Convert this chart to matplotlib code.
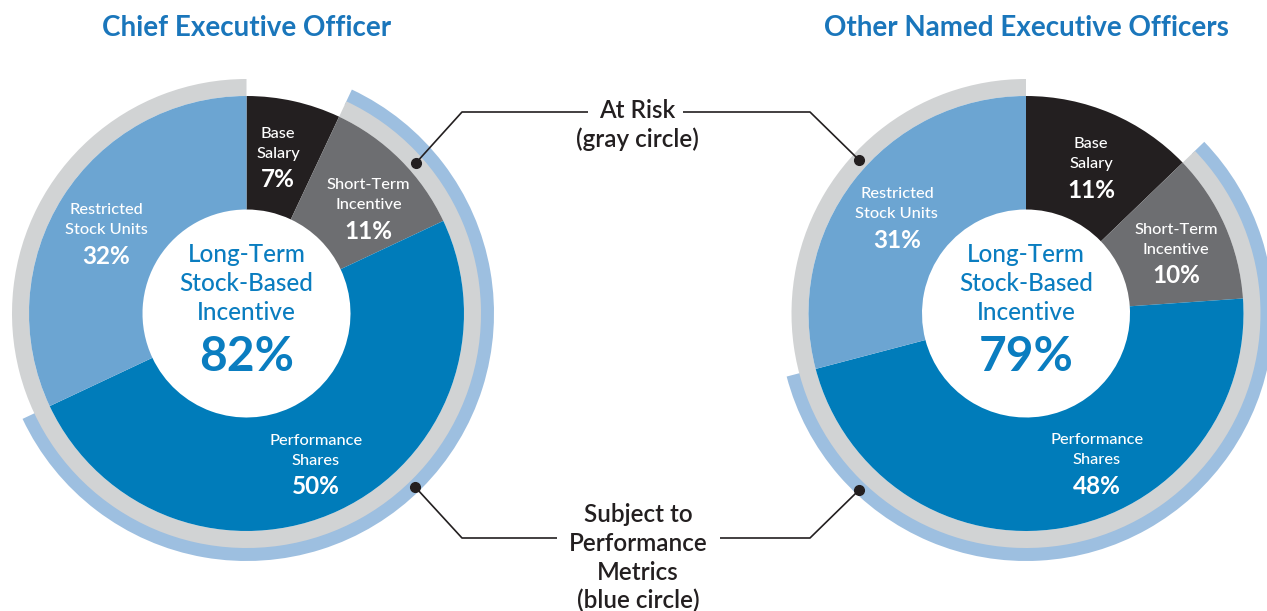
import numpy as np
import matplotlib.pyplot as plt

plt.rcParams['font.family'] = ['Lato', 'DejaVu Sans']

# data
titles = ["Chief Executive Officer", "Other Named Executive Officers"]
segments = ["Base\nSalary", "Short-Term\nIncentive", "Performance\nShares", "Restricted\nStock Units"]
ceo_pct = [7, 11, 50, 32]
neo_pct = [11, 10, 48, 31]
ltsbi_pct = [82, 79]
center_label = "Long-Term\nStock-Based\nIncentive"
# slice sizes as drawn in the source graphic (right chart is not drawn to its labels)
ceo_arc = [7, 11, 50, 32]
neo_arc = [12.8, 11.1, 47.0, 29.1]

# styles
seg_colors = ["#231f20", "#6d6e71", "#007cba", "#6ca5d2"]
ring_gray = "#d1d3d4"
ring_blue = "#9dbfe0"
title_blue = "#1a76bb"
inner_blue = "#0a7dc0"
ink = "#231f20"

W, H = 1267, 611
R_PIE, R_HOLE = 217.5, 104
R_GRAY, R_BLUE, RING_W = 234.5, 247.5, 17
centers = [(246.5, H - 313.5), (1026, H - 313.5)]
label_nudge = [[-1.4, 3.4, 0, -1.6], [0.5, 1, -16.4, 0]]   # degrees

fig = plt.figure(figsize=(W / 100, H / 100), dpi=100)
ax = fig.add_axes([0, 0, 1, 1])


def polar(c, ang, r):
    # ang in degrees, clockwise from 12 o'clock
    a = np.radians(ang)
    return c[0] + r * np.sin(a), c[1] + r * np.cos(a)


for c, pct, arc, ltsbi, title, nudge in zip(centers, [ceo_pct, neo_pct], [ceo_arc, neo_arc],
                                            ltsbi_pct, titles, label_nudge):
    base = arc[0]
    perf = arc[1] + arc[2]
    rest = 100 - base - perf
    kw = dict(center=c, startangle=90, counterclock=False, frame=True)

    # blue ring - subject to performance metrics
    ax.pie([base, perf, rest], colors=["none", ring_blue, "none"], radius=R_BLUE,
           wedgeprops=dict(width=RING_W, linewidth=0), **kw)
    # gray ring - at risk
    ax.pie([base, 100 - base], colors=["none", ring_gray], radius=R_GRAY,
           wedgeprops=dict(width=RING_W, linewidth=0), **kw)
    # main donut
    ax.pie(arc, colors=seg_colors, radius=R_PIE,
           wedgeprops=dict(width=R_PIE - R_HOLE, linewidth=0), **kw)

    # segment labels
    cum = np.cumsum([0] + arc)
    for i, (name, p) in enumerate(zip(segments, pct)):
        mid = (cum[i] + arc[i] / 2) * 3.6 + nudge[i]
        x, y = polar(c, mid, 163)
        l1, l2 = name.split("\n")
        ax.text(x, y + 20, l1, color="white", fontsize=11.8, fontweight="medium",
                ha="center", va="center")
        ax.text(x, y, l2, color="white", fontsize=11.8, fontweight="medium",
                ha="center", va="center")
        ax.text(x, y - 26, f"{p}%", color="white", fontsize=17.5, fontweight="bold",
                ha="center", va="center")

    # center text
    for k, line in enumerate(center_label.split("\n")):
        ax.text(c[0], c[1] + 58.5 - 28.5 * k, line, color=inner_blue, fontsize=17.5,
                fontweight="medium", ha="center", va="center")
    ax.text(c[0], c[1] - 43.5, f"{ltsbi}%", color=inner_blue, fontsize=34.5,
            fontweight="bold", ha="center", va="center")

    ax.text(c[0], H - 28, title, color=title_blue, fontsize=20, fontweight="bold",
            ha="center", va="center")

# callouts
cl, cr = centers
ax.text(637, H - 110, "At Risk", color=ink, fontsize=17.5, fontweight="semibold",
        ha="center", va="center")
ax.text(637, H - 139, "(gray circle)", color=ink, fontsize=17.5, fontweight="semibold",
        ha="center", va="center")
for k, line in enumerate(["Subject to", "Performance", "Metrics", "(blue circle)"]):
    ax.text(638, H - 515 - 28.5 * k, line, color=ink, fontsize=17.5, fontweight="semibold",
            ha="center", va="center")

leaders = [
    (polar(cl, 48.4, 226), (462, H - 112), (588, H - 112)),
    (polar(cr, 312.6, 226.8), (810, H - 112), (683, H - 112)),
    (polar(cl, 135.8, 241.5), (462, H - 538), (557, H - 538)),
    (polar(cr, 223.4, 243), (810, H - 538), (720, H - 538)),
]
for dot, knee, end in leaders:
    ax.plot([dot[0], knee[0], end[0]], [dot[1], knee[1], end[1]], color=ink, lw=1.2,
            solid_capstyle="butt", zorder=5)
    ax.plot(dot[0], dot[1], "o", color=ink, ms=7, zorder=6)

ax.set_xlim(0, W)
ax.set_ylim(0, H)
ax.set_aspect("equal")
ax.axis("off")

fig.savefig("out.png", dpi=100)
